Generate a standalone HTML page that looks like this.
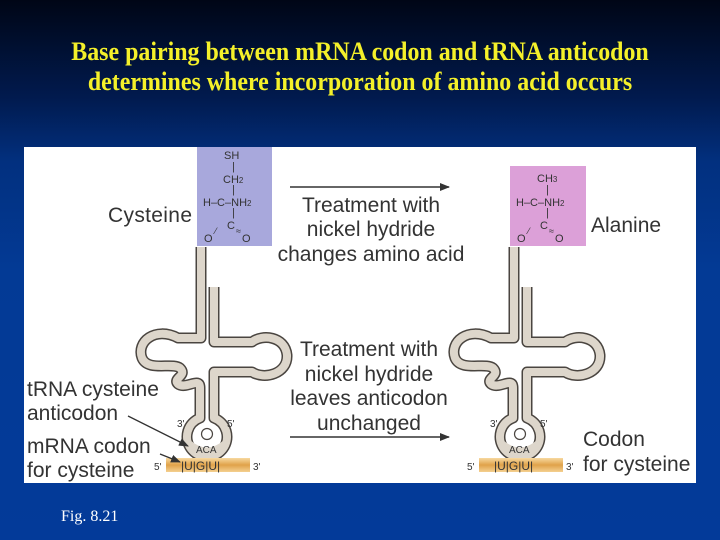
<!DOCTYPE html>
<html><head><style>
html,body{margin:0;padding:0}
body{width:720px;height:540px;overflow:hidden;background:linear-gradient(180deg,#000616 0%,#011a4e 18%,#02307f 30%,#033a95 50%,#033a99 100%);position:relative;font-family:"Liberation Sans",sans-serif}
.t{position:absolute;left:0;width:720px;text-align:center;color:#f4f02a;font-family:"Liberation Serif",serif;font-weight:bold;font-size:26px;line-height:30px;transform:scaleX(0.92);letter-spacing:0}
.fig{position:absolute;left:61px;top:508px;color:#fff;font-family:"Liberation Serif",serif;font-size:16px}
svg{position:absolute;left:0;top:0}
</style></head><body>
<div class="t" style="top:37px">Base pairing between mRNA codon and tRNA anticodon</div>
<div class="t" style="top:67px">determines where incorporation of amino acid occurs</div>
<div class="fig">Fig. 8.21</div>
<svg width="720" height="540" viewBox="0 0 720 540">
<defs>
<linearGradient id="or" x1="0" y1="0" x2="0" y2="1"><stop offset="0" stop-color="#f7d9a0"/><stop offset="0.5" stop-color="#e0a24a"/><stop offset="1" stop-color="#f4d090"/></linearGradient>
<marker id="ah" markerWidth="10" markerHeight="8" refX="9" refY="4" orient="auto" markerUnits="userSpaceOnUse"><path d="M0,0 L10,4 L0,8z" fill="#333"/></marker>
<g id="trna">
<path d="M201,247 V338 H178 C155,326 136,342 142,358 C148,372 172,362 180,368 C188,376 172,378 178,384 C186,390 200,376 200,388 V418 A20 20 0 1 0 214,418 V372 H252 C264,380 288,374 287,355 C285,336 262,334 252,342 H214 V287" fill="none" stroke="#4a4540" stroke-width="11" stroke-linejoin="round"/>
<path d="M201,247 V338 H178 C155,326 136,342 142,358 C148,372 172,362 180,368 C188,376 172,378 178,384 C186,390 200,376 200,388 V418 A20 20 0 1 0 214,418 V372 H252 C264,380 288,374 287,355 C285,336 262,334 252,342 H214 V287" fill="none" stroke="#ddd6cb" stroke-width="8" stroke-linejoin="round"/>
<path d="M190,440 Q207,455 224,440 L224,452 Q207,462 190,452z" fill="#ddd6cb"/>
<circle cx="207" cy="434" r="5.5" fill="#fff" stroke="#4a4540" stroke-width="1.2"/>
<text x="196" y="453" font-size="10" fill="#333">ACA</text>
<rect x="166" y="458" width="84" height="14" fill="url(#or)"/>
<text x="181" y="470" font-size="12" fill="#333">|U|G|U|</text>
<text x="154" y="470" font-size="10" fill="#333">5'</text>
<text x="253" y="470" font-size="10" fill="#333">3'</text>
<text x="177" y="427" font-size="10" fill="#333">3'</text>
<text x="227" y="427" font-size="10" fill="#333">5'</text>
</g>
</defs>
<rect x="24" y="147" width="672" height="336" fill="#fff"/>
<rect x="197" y="147" width="75" height="99" fill="#a8a8dc"/>
<rect x="510" y="166" width="76" height="80" fill="#dca0d8"/>
<use href="#trna"/>
<use href="#trna" x="313"/>
<g font-size="11" fill="#333" font-family="Liberation Sans,sans-serif">
<text x="224" y="159">SH</text><text x="232" y="170">|</text>
<text x="223" y="183">CH<tspan font-size="8">2</tspan></text><text x="232" y="193">|</text>
<text x="203" y="206">H–C–NH<tspan font-size="8">2</tspan></text><text x="232" y="216">|</text>
<text x="227" y="229">C</text><text x="204" y="242">O</text><text x="242" y="242">O</text>
<text x="215" y="234" font-size="9">⁄</text><text x="236" y="234" font-size="9">≈</text>
<text x="537" y="182">CH<tspan font-size="8">3</tspan></text><text x="546" y="193">|</text>
<text x="516" y="206">H–C–NH<tspan font-size="8">2</tspan></text><text x="546" y="216">|</text>
<text x="540" y="229">C</text><text x="517" y="242">O</text><text x="555" y="242">O</text>
<text x="528" y="234" font-size="9">⁄</text><text x="549" y="234" font-size="9">≈</text>
</g>
<g font-size="21" fill="#333" font-family="Liberation Sans,sans-serif">
<text x="108" y="222" textLength="84">Cysteine</text>
<text x="591" y="232">Alanine</text>
<text x="371" y="212" text-anchor="middle">Treatment with</text>
<text x="371" y="236" text-anchor="middle">nickel hydride</text>
<text x="371" y="261" text-anchor="middle">changes amino acid</text>
<text x="369" y="356" text-anchor="middle">Treatment with</text>
<text x="369" y="381" text-anchor="middle">nickel hydride</text>
<text x="369" y="405" text-anchor="middle">leaves anticodon</text>
<text x="369" y="430" text-anchor="middle">unchanged</text>
<text x="27" y="396">tRNA cysteine</text>
<text x="27" y="420">anticodon</text>
<text x="27" y="453">mRNA codon</text>
<text x="27" y="477">for cysteine</text>
<text x="583" y="446">Codon</text>
<text x="583" y="471">for cysteine</text>
</g>
<line x1="290" y1="187" x2="449" y2="187" stroke="#333" stroke-width="1.5" marker-end="url(#ah)"/>
<line x1="290" y1="437" x2="449" y2="437" stroke="#333" stroke-width="1.5" marker-end="url(#ah)"/>
<line x1="128" y1="416" x2="188" y2="446" stroke="#333" stroke-width="1.3" marker-end="url(#ah)"/>
<line x1="160" y1="454" x2="180" y2="462" stroke="#333" stroke-width="1.3" marker-end="url(#ah)"/>
</svg>
</body></html>
